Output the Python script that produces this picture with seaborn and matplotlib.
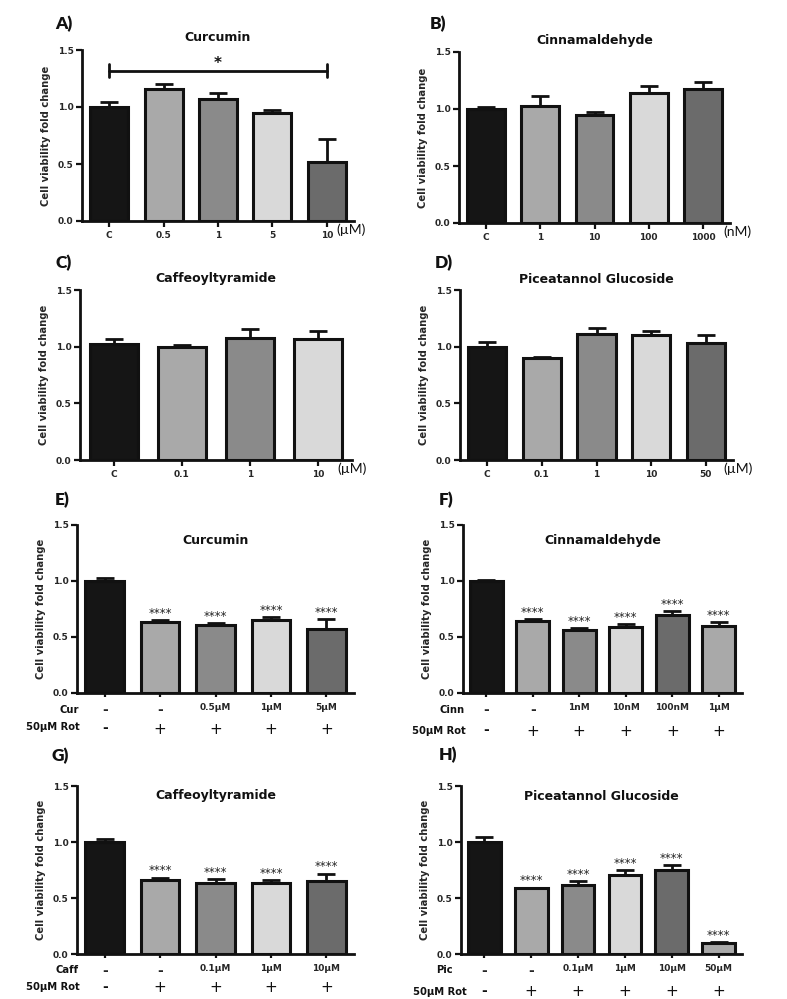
import numpy as np
import pandas as pd
import matplotlib
matplotlib.use("Agg")
import matplotlib.pyplot as plt
import seaborn as sns

sns.set_theme(style="ticks")
plt.rcParams["font.family"] = ["DejaVu Sans"]

BLACK = "#151515"
LIGHT = "#a9a9a9"
MID = "#8a8a8a"
PALE = "#d9d9d9"
DARK = "#6b6b6b"

# ---------------- data ----------------
A_labels = ["C", "0.5", "1", "5", "10"]
A_vals = [1.00, 1.155, 1.067, 0.95, 0.515]
A_err = [0.04, 0.045, 0.053, 0.025, 0.20]

B_labels = ["C", "1", "10", "100", "1000"]
B_vals = [1.00, 1.03, 0.948, 1.136, 1.174]
B_err = [0.015, 0.08, 0.029, 0.064, 0.064]

C_labels = ["C", "0.1", "1", "10"]
C_vals = [1.024, 0.994, 1.08, 1.065]
C_err = [0.041, 0.018, 0.073, 0.07]

D_labels = ["C", "0.1", "1", "10", "50"]
D_vals = [1.00, 0.903, 1.109, 1.103, 1.03]
D_err = [0.04, 0.009, 0.059, 0.035, 0.07]

E_row1 = ["-", "-", "0.5µM", "1µM", "5µM"]
E_row2 = ["-", "+", "+", "+", "+"]
E_vals = [1.00, 0.633, 0.603, 0.654, 0.573]
E_err = [0.03, 0.015, 0.024, 0.024, 0.09]

F_row1 = ["-", "-", "1nM", "10nM", "100nM", "1µM"]
F_row2 = ["-", "+", "+", "+", "+", "+"]
F_vals = [1.00, 0.642, 0.562, 0.592, 0.692, 0.598]
F_err = [0.012, 0.018, 0.015, 0.023, 0.042, 0.032]

G_row1 = ["-", "-", "0.1µM", "1µM", "10µM"]
G_row2 = ["-", "+", "+", "+", "+"]
G_vals = [1.00, 0.659, 0.635, 0.632, 0.653]
G_err = [0.024, 0.023, 0.033, 0.027, 0.065]

H_row1 = ["-", "-", "0.1µM", "1µM", "10µM", "50µM"]
H_row2 = ["-", "+", "+", "+", "+", "+"]
H_vals = [1.00, 0.585, 0.62, 0.709, 0.751, 0.098]
H_err = [0.047, 0.008, 0.03, 0.042, 0.041, 0.009]

y_ticks = [0.0, 0.5, 1.0, 1.5]
y_ticklabels = ["0.0", "0.5", "1.0", "1.5"]

W, H = 787, 999
fig = plt.figure(figsize=(W / 100, H / 100), dpi=100)
fig.patch.set_facecolor("white")


def make_axes(l, t, r, b):
    return fig.add_axes([l / W, 1 - b / H, (r - l) / W, (b - t) / H])


def draw(ax, vals, errs, colors, title, title_y, stars=None):
    n = len(vals)
    keys = [f"g{i}" for i in range(n)]
    df = pd.DataFrame({"k": keys, "v": vals})
    sns.barplot(data=df, x="k", y="v", hue="k", order=keys, hue_order=keys,
                palette=colors[:n], legend=False, width=0.7, errorbar=None,
                edgecolor="#111111", linewidth=2.2, ax=ax, saturation=1)
    x = np.arange(n)
    ax.errorbar(x, vals, yerr=[np.zeros(n), errs], fmt="none", ecolor="#111111",
                elinewidth=2, capsize=6.5, capthick=2, zorder=1)
    ax.set_xlim(-0.5, n - 0.5)
    ax.set_ylim(0, 1.5)
    ax.set_yticks(y_ticks)
    ax.set_yticklabels(y_ticklabels, fontsize=6.5, fontweight="bold")
    ax.set_xlabel("")
    ax.set_ylabel("Cell viability fold change", fontsize=7.2, fontweight="bold",
                  labelpad=5)
    for s in ["top", "right"]:
        ax.spines[s].set_visible(False)
    for s in ["left", "bottom"]:
        ax.spines[s].set_linewidth(2)
        ax.spines[s].set_color("#111111")
    ax.tick_params(axis="both", length=4, width=1.6, color="#111111",
                   direction="out")
    ax.tick_params(axis="y", pad=2)
    ax.set_facecolor("white")
    ax.text(0.5, title_y, title, transform=ax.transAxes, ha="center",
            va="center", fontsize=9, fontweight="bold", color="#111111")
    if stars is not None:
        for i in range(n):
            if stars[i]:
                ax.text(i, vals[i] + errs[i] + 0.06, "****", ha="center",
                        va="center", fontsize=8.5, color="#222222")


cols5 = [BLACK, LIGHT, MID, PALE, DARK]
cols6 = [BLACK, LIGHT, MID, PALE, DARK, LIGHT]


def top_panel(ax, labels, vals, errs, title, title_y, unit, unit_dx):
    draw(ax, vals, errs, cols5, title, title_y)
    ax.set_xticks(np.arange(len(vals)))
    ax.set_xticklabels(labels, fontsize=6.5, fontweight="bold")
    ax.tick_params(axis="x", pad=3)
    ax.annotate(unit, xy=(len(vals) - 1, 0), xycoords=("data", "axes fraction"),
                xytext=(unit_dx, -6), textcoords="offset points", ha="left",
                va="center", fontsize=10, family=["Lato", "DejaVu Sans"],
                color="#111111")


def bottom_panel(ax, row1, row2, vals, errs, cols, title, title_y,
                 lab1, lab1_xy, lab2_xy, row2_dy):
    n = len(vals)
    draw(ax, vals, errs, cols, title, title_y, stars=[False] + [True] * (n - 1))
    ax.set_xticks(np.arange(n))
    ax.set_xticklabels(row1, fontsize=6.5, fontweight="bold")
    for t in ax.get_xticklabels():
        if t.get_text() == "-":
            t.set_fontsize(10)
    ax.tick_params(axis="x", pad=4, length=3)
    for i, s in enumerate(row2):
        if s == "+":
            ax.annotate(s, xy=(i, 0), xycoords=("data", "axes fraction"),
                        xytext=(0, -row2_dy * 0.72), textcoords="offset points",
                        ha="center", va="center", fontsize=11, color="#111111")
        else:
            ax.annotate(s, xy=(i, 0), xycoords=("data", "axes fraction"),
                        xytext=(0, -row2_dy * 0.72 + 1), textcoords="offset points",
                        ha="center", va="center", fontsize=10, fontweight="bold",
                        color="#111111")
    fig.text(lab1_xy[0] / W, 1 - lab1_xy[1] / H, lab1, ha="right", va="center",
             fontsize=7.2, fontweight="bold", color="#111111")
    fig.text(lab2_xy[0] / W, 1 - lab2_xy[1] / H, "50µM Rot", ha="right",
             va="center", fontsize=7.2, fontweight="bold", color="#111111")


# ---- A ----
axA = make_axes(82, 50, 354, 221)
top_panel(axA, A_labels, A_vals, A_err, "Curcumin", 1.076, "(µM)", 7)
axA.plot([0, 4], [1.32, 1.32], color="#111111", lw=2)
axA.plot([0, 0], [1.26, 1.38], color="#111111", lw=2)
axA.plot([4, 4], [1.26, 1.38], color="#111111", lw=2)
axA.text(2, 1.385, "*", ha="center", va="center", fontsize=11,
         fontweight="bold", color="#111111")

# ---- B ----
axB = make_axes(459, 52, 730, 223)
top_panel(axB, B_labels, B_vals, B_err, "Cinnamaldehyde", 1.07, "(nM)", 15)

# ---- C ----
axC = make_axes(80, 290, 352, 460)
top_panel(axC, C_labels, C_vals, C_err, "Caffeoyltyramide", 1.065, "(µM)", 14)

# ---- D ----
axD = make_axes(460, 290, 733, 460)
top_panel(axD, D_labels, D_vals, D_err, "Piceatannol Glucoside", 1.062, "(µM)", 13)

# ---- E ----
axE = make_axes(77, 525, 354, 693)
bottom_panel(axE, E_row1, E_row2, E_vals, E_err, cols5, "Curcumin", 0.905,
             "Cur", (79, 710), (80, 727), 36)

# ---- F ----
axF = make_axes(463, 525, 742, 693)
bottom_panel(axF, F_row1, F_row2, F_vals, F_err, cols6, "Cinnamaldehyde", 0.905,
             "Cinn", (465, 710), (466, 731), 38)

# ---- G ----
axG = make_axes(77, 786, 354, 954)
bottom_panel(axG, G_row1, G_row2, G_vals, G_err, cols5, "Caffeoyltyramide",
             0.946, "Caff", (79, 970), (80, 987), 34)

# ---- H ----
axH = make_axes(461, 786, 742, 954)
bottom_panel(axH, H_row1, H_row2, H_vals, H_err, cols6, "Piceatannol Glucoside",
             0.94, "Pic", (453, 970), (467, 992), 38)

# panel letters
for lab, (px, py) in {"A)": (55, 24), "B)": (430, 24), "C)": (55, 263),
                      "D)": (435, 263), "E)": (55, 500), "F)": (439, 500),
                      "G)": (52, 756), "H)": (439, 755)}.items():
    fig.text(px / W, 1 - py / H, lab, ha="left", va="center", fontsize=12.5,
             fontweight="heavy", family=["Lato", "DejaVu Sans"], color="#111111")

fig.savefig("out.png", dpi=100, facecolor="white")
